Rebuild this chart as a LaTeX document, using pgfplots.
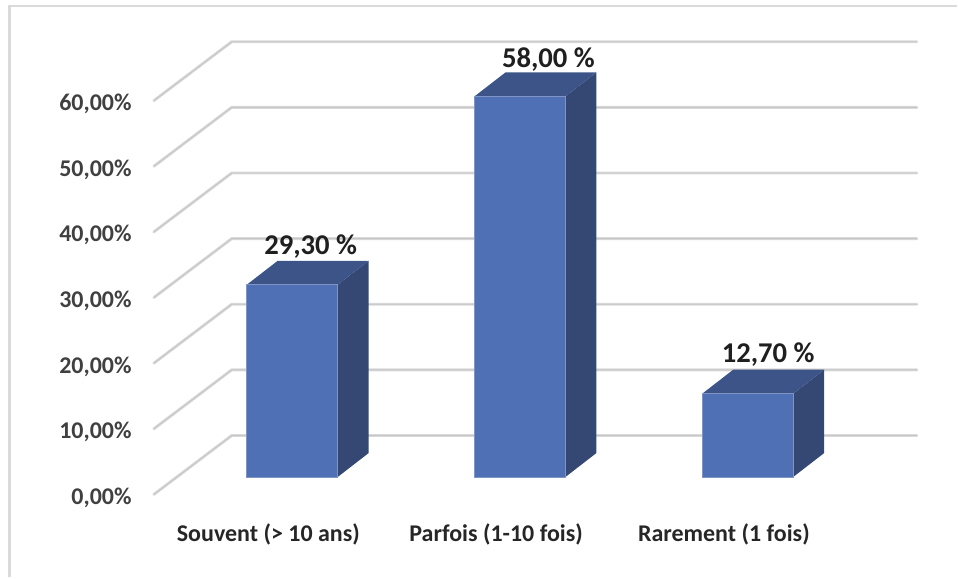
\documentclass[border=0pt]{standalone}
\usepackage{pgfplots}
\usepackage{fontspec}
\setmainfont{Carlito}
\pgfplotsset{compat=1.18}
\definecolor{gridc}{HTML}{DADADA}
\definecolor{gridd}{HTML}{C6C6C6}
\definecolor{framec}{HTML}{DADADA}
\definecolor{barf}{HTML}{5070B6}
\definecolor{bars}{HTML}{344873}
\definecolor{bart}{HTML}{3C5487}
\definecolor{edgec}{HTML}{7F95C6}
\begin{document}
\begin{tikzpicture}[x=1pt,y=1pt]
\begin{axis}[
  x=0.75pt, y=4.9275pt,
  xmin=154, xmax=918, ymin=0, ymax=69,
  clip=false,
  axis line style={draw=none},
  tick style={draw=none},
  ytick={0,10,20,30,40,50,60},
  yticklabels={{0,00\%},{10,00\%},{20,00\%},{30,00\%},{40,00\%},{50,00\%},{60,00\%}},
  xtick={268,496,724},
  xticklabels={Souvent (> 10 ans),Parfois (1-10 fois),Rarement (1 fois)},
  yticklabel style={anchor=east,inner sep=0pt,xshift=-16.5pt,yshift=-2.5pt,text=black!75,font=\fontsize{18}{20}\selectfont\bfseries},
  xticklabel style={anchor=center,inner sep=0pt,xshift=0.5pt,yshift=-30pt,text=black!85,font=\fontsize{18}{20}\selectfont\bfseries},
]
% extent of the page and frame
\path (axis cs:0,-12.63) rectangle (axis cs:958,75.34);
\addplot[framec,line width=1.6pt,forget plot] coordinates {(9.5,-12.63)(9.5,74.4)(958,74.4)};
% gridlines
\pgfplotsset{gl/.style={gridc,line width=2.2pt,line cap=round,forget plot},gd/.style={gridd,line width=0.7pt,forget plot}}
\addplot[gl] coordinates {(154,0)(232,8.98)(918,8.98)};
\addplot[gl] coordinates {(154,10)(232,18.98)(918,18.98)};
\addplot[gl] coordinates {(154,20)(232,28.98)(918,28.98)};
\addplot[gl] coordinates {(154,30)(232,38.98)(918,38.98)};
\addplot[gl] coordinates {(154,40)(232,48.98)(918,48.98)};
\addplot[gl] coordinates {(154,50)(232,58.98)(918,58.98)};
\addplot[gl] coordinates {(154,60)(232,68.98)(918,68.98)};
\addplot[gd] coordinates {(154,0)(232,8.98)(918,8.98)};
\addplot[gd] coordinates {(154,10)(232,18.98)(918,18.98)};
\addplot[gd] coordinates {(154,20)(232,28.98)(918,28.98)};
\addplot[gd] coordinates {(154,30)(232,38.98)(918,38.98)};
\addplot[gd] coordinates {(154,40)(232,48.98)(918,48.98)};
\addplot[gd] coordinates {(154,50)(232,58.98)(918,58.98)};
\addplot[gd] coordinates {(154,60)(232,68.98)(918,68.98)};
% bar 1: 29,30
\addplot[fill=bars,draw=none,forget plot] coordinates {(338,2.65)(369,6.3)(369,35.6)(338,31.95)} --cycle;
\addplot[fill=bart,draw=none,forget plot] coordinates {(247,31.95)(278,35.6)(369,35.6)(338,31.95)} --cycle;
\addplot[fill=barf,draw=edgec,line width=0.4pt,forget plot] coordinates {(247,2.65)(338,2.65)(338,31.95)(247,31.95)} --cycle;
% bar 2: 58,00
\addplot[fill=bars,draw=none,forget plot] coordinates {(566,2.65)(597,6.3)(597,64.3)(566,60.65)} --cycle;
\addplot[fill=bart,draw=none,forget plot] coordinates {(475,60.65)(506,64.3)(597,64.3)(566,60.65)} --cycle;
\addplot[fill=barf,draw=edgec,line width=0.4pt,forget plot] coordinates {(475,2.65)(566,2.65)(566,60.65)(475,60.65)} --cycle;
% bar 3: 12,70
\addplot[fill=bars,draw=none,forget plot] coordinates {(794,2.65)(825,6.3)(825,19)(794,15.35)} --cycle;
\addplot[fill=bart,draw=none,forget plot] coordinates {(703,15.35)(734,19)(825,19)(794,15.35)} --cycle;
\addplot[fill=barf,draw=edgec,line width=0.4pt,forget plot] coordinates {(703,2.65)(794,2.65)(794,15.35)(703,15.35)} --cycle;
% data labels
\node[text=black!88,font=\fontsize{21.5}{24}\selectfont\bfseries,inner sep=0pt] at (axis cs:311,37.8) {29,30 \%};
\node[text=black!88,font=\fontsize{21.5}{24}\selectfont\bfseries,inner sep=0pt] at (axis cs:549,66.3) {58,00 \%};
\node[text=black!88,font=\fontsize{21.5}{24}\selectfont\bfseries,inner sep=0pt] at (axis cs:769,21.3) {12,70 \%};
\end{axis}
\end{tikzpicture}
\end{document}
